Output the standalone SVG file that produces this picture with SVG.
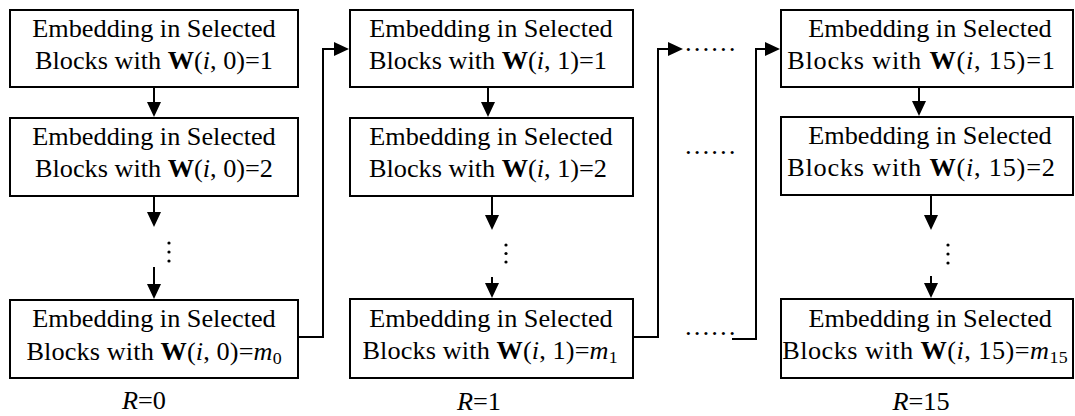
<svg xmlns="http://www.w3.org/2000/svg" width="1075" height="416" viewBox="0 0 1075 416">
  <style>
    .box { fill: #fff; stroke: #000; stroke-width: 2; }
    .t { font-family: "Liberation Serif", "Times New Roman", serif; font-size: 25px; text-anchor: middle; fill: #000; }
    .dots { font-family: "Liberation Serif", "Times New Roman", serif; font-size: 25px; fill: #000; }
    .b { font-weight: bold; }
    .i { font-style: italic; }
    .sub { font-size: 17px; }
    .wire { fill: none; stroke: #000; stroke-width: 2; }
    .vdot { fill: #000; }
  </style>
  <defs>
    <marker id="ah" markerUnits="userSpaceOnUse" markerWidth="16" markerHeight="16" refX="12" refY="7" orient="auto">
      <path d="M0,0 L15,7 L0,14 z" fill="#000"/>
    </marker>
  </defs>

  <rect width="1075" height="416" fill="#fff"/>

  <!-- R = 0 column -->
  <g id="r0-w1">
    <rect class="box" x="10" y="10" width="288" height="77"/>
    <text class="t" transform="translate(154 37) scale(1.05 1)">Embedding in Selected</text>
    <text class="t" transform="translate(154 69) scale(1.05 1)">Blocks with <tspan class="b">W</tspan>(<tspan class="i">i</tspan>, 0)=1</text>
  </g>
  <g id="r0-w2">
    <rect class="box" x="10" y="118" width="288" height="78"/>
    <text class="t" transform="translate(154 145) scale(1.05 1)">Embedding in Selected</text>
    <text class="t" transform="translate(154 177) scale(1.05 1)">Blocks with <tspan class="b">W</tspan>(<tspan class="i">i</tspan>, 0)=2</text>
  </g>
  <g id="r0-wm">
    <rect class="box" x="10" y="300" width="288" height="78"/>
    <text class="t" transform="translate(154 327) scale(1.05 1)">Embedding in Selected</text>
    <text class="t" transform="translate(154 360) scale(1.05 1)" textLength="243" lengthAdjust="spacing">Blocks with <tspan class="b">W</tspan>(<tspan class="i">i</tspan>, 0)=<tspan class="i">m</tspan><tspan class="sub" dy="4">0</tspan></text>
  </g>
  <g id="r0-label">
    <text class="t" transform="translate(144 409) scale(1.05 1)"><tspan class="i">R</tspan>=0</text>
  </g>

  <!-- R = 1 column -->
  <g id="r1-w1">
    <rect class="box" x="350" y="10" width="283" height="77"/>
    <text class="t" transform="translate(491 37) scale(1.05 1)">Embedding in Selected</text>
    <text class="t" transform="translate(488 69) scale(1.05 1)">Blocks with <tspan class="b">W</tspan>(<tspan class="i">i</tspan>, 1)=1</text>
  </g>
  <g id="r1-w2">
    <rect class="box" x="350" y="118" width="283" height="78"/>
    <text class="t" transform="translate(491 145) scale(1.05 1)">Embedding in Selected</text>
    <text class="t" transform="translate(488 177) scale(1.05 1)">Blocks with <tspan class="b">W</tspan>(<tspan class="i">i</tspan>, 1)=2</text>
  </g>
  <g id="r1-wm">
    <rect class="box" x="350" y="299" width="283" height="79"/>
    <text class="t" transform="translate(491 327) scale(1.05 1)">Embedding in Selected</text>
    <text class="t" transform="translate(490 359) scale(1.05 1)" textLength="243" lengthAdjust="spacing">Blocks with <tspan class="b">W</tspan>(<tspan class="i">i</tspan>, 1)=<tspan class="i">m</tspan><tspan class="sub" dy="4">1</tspan></text>
  </g>
  <g id="r1-label">
    <text class="t" transform="translate(479 410) scale(1.05 1)"><tspan class="i">R</tspan>=1</text>
  </g>

  <!-- R = 15 column -->
  <g id="r15-w1">
    <rect class="box" x="781" y="10" width="292" height="77"/>
    <text class="t" transform="translate(930 37) scale(1.05 1)">Embedding in Selected</text>
    <text class="t" transform="translate(921 69) scale(1.05 1)" textLength="255" lengthAdjust="spacing">Blocks with <tspan class="b">W</tspan>(<tspan class="i">i</tspan>, 15)=1</text>
  </g>
  <g id="r15-w2">
    <rect class="box" x="781" y="117" width="292" height="78"/>
    <text class="t" transform="translate(930 144) scale(1.05 1)">Embedding in Selected</text>
    <text class="t" transform="translate(921 176) scale(1.05 1)" textLength="255" lengthAdjust="spacing">Blocks with <tspan class="b">W</tspan>(<tspan class="i">i</tspan>, 15)=2</text>
  </g>
  <g id="r15-wm">
    <rect class="box" x="781" y="299" width="292" height="79"/>
    <text class="t" transform="translate(925 327) scale(1.05 1)" x="5">Embedding in Selected</text>
    <text class="t" transform="translate(925 359) scale(1.05 1)" textLength="272" lengthAdjust="spacing">Blocks with <tspan class="b">W</tspan>(<tspan class="i">i</tspan>, 15)=<tspan class="i">m</tspan><tspan class="sub" dy="4">15</tspan></text>
  </g>
  <g id="r15-label">
    <text class="t" transform="translate(921 410) scale(1.05 1)"><tspan class="i">R</tspan>=15</text>
  </g>

  <!-- elided steps -->
  <g id="gaps">
    <circle class="vdot" cx="169" cy="243" r="1.6"/>
    <circle class="vdot" cx="169" cy="252" r="1.6"/>
    <circle class="vdot" cx="169" cy="261" r="1.6"/>
    <circle class="vdot" cx="506" cy="245" r="1.6"/>
    <circle class="vdot" cx="506" cy="253.5" r="1.6"/>
    <circle class="vdot" cx="506" cy="262" r="1.6"/>
    <circle class="vdot" cx="948" cy="245" r="1.6"/>
    <circle class="vdot" cx="948" cy="254" r="1.6"/>
    <circle class="vdot" cx="948" cy="263" r="1.6"/>
    <text class="dots" transform="translate(684 50.5) scale(1.05 1)">……</text>
    <text class="dots" transform="translate(684 153.5) scale(1.05 1)">……</text>
    <text class="dots" transform="translate(684 334.5) scale(1.05 1)">……</text>
  </g>

  <!-- connectors -->
  <g id="connectors" class="wire">
    <path d="M154,87 V114" marker-end="url(#ah)"/>
    <path d="M154,196 V224" marker-end="url(#ah)"/>
    <path d="M154,267 V296" marker-end="url(#ah)"/>

    <path d="M488,87 V114" marker-end="url(#ah)"/>
    <path d="M492,196 V227" marker-end="url(#ah)"/>
    <path d="M492,277 V295" marker-end="url(#ah)"/>

    <path d="M919,87 V113" marker-end="url(#ah)"/>
    <path d="M931,195 V227" marker-end="url(#ah)"/>
    <path d="M931,276 V295" marker-end="url(#ah)"/>

    <path d="M298,337 H323 V49 H346" marker-end="url(#ah)"/>
    <path d="M633,337 H658 V49 H680" marker-end="url(#ah)"/>
    <path d="M732,339 H756 V49 H777" marker-end="url(#ah)"/>
  </g>
</svg>
